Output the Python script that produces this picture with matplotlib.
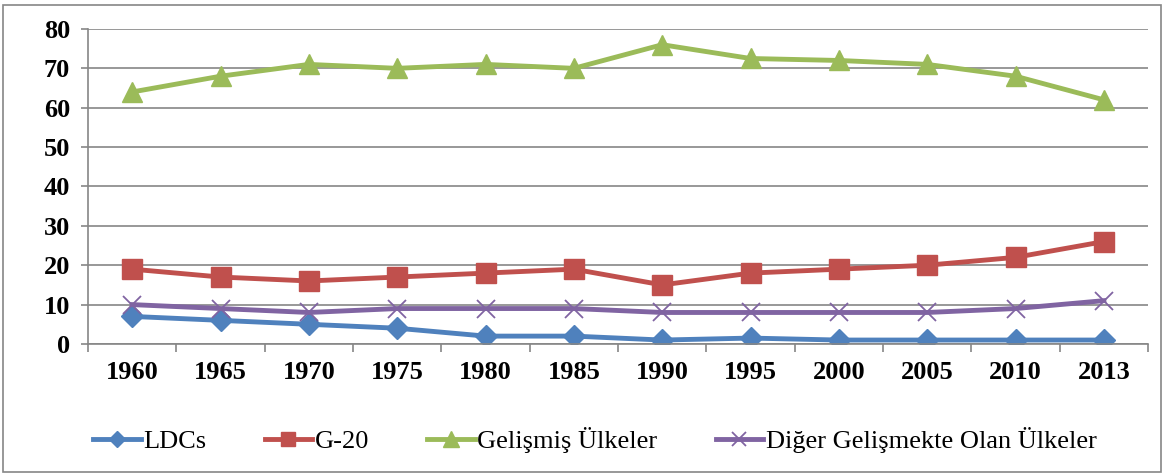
import matplotlib
matplotlib.use("Agg")
import matplotlib.pyplot as plt
from matplotlib.patches import Rectangle

years = ["1960", "1965", "1970", "1975", "1980", "1985", "1990", "1995",
         "2000", "2005", "2010", "2013"]
ldcs = [7, 6, 5, 4, 2, 2, 1, 1.5, 1, 1, 1, 1]
g20 = [19, 17, 16, 17, 18, 19, 15, 18, 19, 20, 22, 26]
gelismis = [64, 68, 71, 70, 71, 70, 76, 72.5, 72, 71, 68, 62]
diger = [10, 9, 8, 9, 9, 9, 8, 8, 8, 8, 9, 11]
labels = ["LDCs", "G-20", "Gelişmiş Ülkeler", "Diğer Gelişmekte Olan Ülkeler"]

plt.rcParams["font.family"] = ["Liberation Serif", "DejaVu Serif"]

fig = plt.figure(figsize=(11.64, 4.74), dpi=100)
ax = fig.add_axes([0.0756, 0.2743, 0.9107, 0.6646])
# chart area border
fig.patches.append(Rectangle((3 / 1164, 2 / 474), 1158 / 1164, 467 / 474,
                             transform=fig.transFigure, fill=False,
                             edgecolor="#868686", lw=1.2))

x = list(range(len(years)))
ax.plot(x, ldcs, color="#4F81BD", lw=3.5, marker="D", ms=11, label=labels[0])
ax.plot(x, g20, color="#C0504D", lw=3.5, marker="s", ms=14, label=labels[1])
ax.plot(x, gelismis, color="#9BBB59", lw=3.5, marker="^", ms=15, label=labels[2])
ax.plot(x, diger, color="#8064A2", lw=3.5, marker="x", ms=13, mew=1.3, label=labels[3])

ax.set_xlim(-0.5, len(years) - 0.5)
ax.set_ylim(0, 80)
ax.set_yticks(range(0, 81, 10))
ax.set_xticks(x)
ax.set_xticklabels(years)
ax.set_xticks([i - 0.5 for i in range(len(years) + 1)], minor=True)
ax.tick_params(axis="x", which="major", length=0, pad=12, labelsize=19)
ax.tick_params(axis="x", which="minor", length=6, color="#868686", width=1.2)
ax.tick_params(axis="y", length=5, color="#868686", width=1.2, labelsize=19, pad=8)
for lab in ax.get_xticklabels() + ax.get_yticklabels():
    lab.set_fontweight("bold")

ax.grid(axis="y", color="#868686", lw=1.2)
ax.set_axisbelow(True)
for s in ("top", "right"):
    ax.spines[s].set_visible(False)
for s in ("left", "bottom"):
    ax.spines[s].set_color("#868686")
    ax.spines[s].set_linewidth(1.2)

ax.legend(loc="center", bbox_to_anchor=(595 / 1164, 1 - 440 / 474),
          bbox_transform=fig.transFigure, ncol=4, frameon=False, fontsize=19,
          handlelength=1.8, columnspacing=2.2, handletextpad=0.1,
          markerscale=0.75, borderpad=0)

fig.savefig("out.png", dpi=100)
